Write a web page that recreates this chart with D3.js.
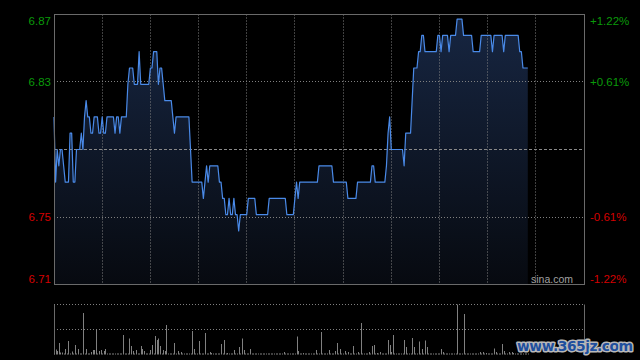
<!DOCTYPE html>
<html><head><meta charset="utf-8">
<script src="https://cdn.jsdelivr.net/npm/d3@7"></script>
<style>html,body{margin:0;padding:0;background:#000;}svg{display:block;}</style>
</head><body>
<svg id="chart" width="640" height="360"></svg>
<script>
// Previous close and axis labels
const prevClose = 6.79;
const pctTicks = [1.22, 0.61, -0.61, -1.22];
const priceLabels = ["6.87", "6.83", "6.75", "6.71"];
const pctLabels = ["+1.22%", "+0.61%", "-0.61%", "-1.22%"];
const sessionMinutes = 330;
const gridMinutes = [30, 60, 90, 120, 150, 180, 210, 240, 270, 300];

// Per-minute last price
const prices = [
6.81,6.77,6.79,6.78,6.79,6.79,6.78,6.77,6.77,6.77,
6.80,6.80,6.77,6.77,6.79,6.79,6.79,6.80,6.79,6.81,
6.82,6.81,6.81,6.80,6.80,6.81,6.81,6.81,6.80,6.80,
6.81,6.80,6.80,6.81,6.81,6.81,6.81,6.81,6.80,6.81,
6.81,6.80,6.81,6.81,6.81,6.81,6.83,6.84,6.84,6.84,
6.83,6.83,6.83,6.85,6.83,6.83,6.83,6.83,6.83,6.83,
6.84,6.84,6.85,6.85,6.85,6.83,6.84,6.84,6.83,6.82,
6.82,6.82,6.82,6.82,6.81,6.80,6.81,6.81,6.81,6.81,
6.81,6.81,6.81,6.81,6.81,6.79,6.77,6.77,6.77,6.77,
6.77,6.77,6.77,6.76,6.77,6.78,6.77,6.78,6.78,6.78,
6.78,6.78,6.78,6.77,6.77,6.76,6.76,6.75,6.75,6.76,
6.75,6.75,6.76,6.75,6.75,6.74,6.75,6.75,6.75,6.75,
6.75,6.76,6.76,6.76,6.76,6.76,6.75,6.75,6.75,6.75,
6.75,6.75,6.75,6.75,6.76,6.76,6.76,6.76,6.76,6.76,
6.76,6.76,6.76,6.76,6.76,6.75,6.75,6.75,6.75,6.75,
6.76,6.77,6.76,6.77,6.77,6.77,6.77,6.77,6.77,6.77,
6.77,6.77,6.77,6.77,6.77,6.78,6.78,6.78,6.78,6.78,
6.78,6.78,6.78,6.78,6.77,6.77,6.77,6.77,6.77,6.77,
6.77,6.77,6.77,6.76,6.76,6.76,6.76,6.76,6.76,6.77,
6.77,6.77,6.77,6.77,6.77,6.77,6.77,6.77,6.78,6.78,
6.77,6.77,6.77,6.77,6.77,6.77,6.77,6.78,6.80,6.81,
6.79,6.79,6.79,6.79,6.79,6.79,6.79,6.79,6.78,6.80,
6.80,6.80,6.80,6.82,6.84,6.84,6.84,6.85,6.85,6.86,
6.86,6.85,6.85,6.85,6.85,6.85,6.85,6.85,6.85,6.86,
6.86,6.85,6.86,6.86,6.86,6.86,6.85,6.86,6.86,6.86,
6.86,6.87,6.87,6.87,6.87,6.86,6.86,6.86,6.86,6.86,
6.86,6.85,6.85,6.85,6.85,6.85,6.86,6.86,6.86,6.86,
6.86,6.86,6.86,6.85,6.86,6.86,6.86,6.86,6.86,6.86,
6.85,6.86,6.86,6.86,6.86,6.86,6.86,6.86,6.86,6.86,
6.85,6.85,6.84,6.84,6.84,6.84
];

// Per-minute volume (thousand shares)
const volumes = [
2,10,7,23,4,4,2,11,2,27,
2,6,2,19,2,11,2,2,83,2,
11,2,2,5,9,9,49,2,7,9,
2,7,11,2,2,2,2,2,2,2,
2,2,2,39,2,2,2,32,17,7,
2,9,2,2,17,11,7,2,2,2,
9,19,2,37,29,32,17,2,9,7,
59,2,2,2,2,23,2,7,2,5,
2,2,2,2,2,2,47,11,2,2,
27,2,2,2,43,2,2,5,3,2,
2,2,2,2,21,2,29,2,3,2,
2,2,9,2,2,15,2,32,9,2,
2,2,11,2,2,2,2,2,2,2,
2,2,2,2,2,2,2,2,2,2,
2,2,2,5,2,2,2,2,2,2,
2,36,7,2,2,3,2,2,2,2,
2,2,2,9,2,2,45,2,2,2,
2,9,2,2,2,7,23,2,11,2,
2,7,2,5,2,2,17,2,2,5,
2,63,2,2,2,2,5,2,17,19,
2,3,2,5,2,2,2,2,29,19,
5,39,2,2,2,2,2,2,29,15,
2,2,2,33,15,2,2,26,2,11,
2,28,15,2,2,2,2,2,2,2,
2,11,5,2,2,2,2,2,2,2,
2,100,2,2,2,81,2,2,2,2,
2,2,2,2,2,5,2,5,2,3,
2,2,2,2,12,5,2,2,2,21,
7,2,2,5,2,5,3,2,2,2,
2,2,2,2,2,2
];

const svg = d3.select("#chart");
const L = 54, R = 584, T = 14.5, B = 284.5;
const VT = 304.5, VB = 354.5;
const green = "#0a9a0a", red = "#d40000";
const gridColor = "#808080", borderColor = "#6a6a6a";

const x = d3.scaleLinear().domain([0, sessionMinutes]).range([L, R]);
const y = d3.scaleLinear()
  .domain([prevClose * (1 - pctTicks[0] / 100), prevClose * (1 + pctTicks[0] / 100)])
  .range([B, T]);
const yv = d3.scaleLinear().domain([0, d3.max(volumes)]).range([VB, VT]);
const crisp = v => Math.round(v - 0.5) + 0.5;

svg.append("rect").attr("width", 640).attr("height", 360).attr("fill", "#000");

// gradient
const defs = svg.append("defs");
const grad = defs.append("linearGradient").attr("id", "fillGrad")
  .attr("x1", 0).attr("y1", 0).attr("x2", 0).attr("y2", 1)
  .attr("gradientUnits", "userSpaceOnUse")
  .attr("x1", 0).attr("y1", T).attr("x2", 0).attr("y2", B);
grad.append("stop").attr("offset", "0%").attr("stop-color", "#172642");
grad.append("stop").attr("offset", "100%").attr("stop-color", "#070a10");

const data = prices.map((p, i) => ({ m: i, p }));

// area
svg.append("path").datum(data)
  .attr("fill", "url(#fillGrad)")
  .attr("d", d3.area().x(d => x(d.m)).y0(B).y1(d => y(d.p)));

// vertical grid
svg.append("g").selectAll("line").data(gridMinutes).join("line")
  .attr("x1", d => crisp(x(d))).attr("x2", d => crisp(x(d)))
  .attr("y1", T).attr("y2", B)
  .attr("stroke", gridColor).attr("stroke-dasharray", "1,2");

// horizontal grid (+-0.61%)
const midPcts = pctTicks.slice(1, 3);
svg.append("g").selectAll("line").data(midPcts).join("line")
  .attr("x1", L).attr("x2", R)
  .attr("y1", d => crisp(y(prevClose * (1 + d / 100))))
  .attr("y2", d => crisp(y(prevClose * (1 + d / 100))))
  .attr("stroke", gridColor).attr("stroke-dasharray", "1,2");

// prev close dashed
svg.append("line")
  .attr("x1", L).attr("x2", R)
  .attr("y1", crisp(y(prevClose))).attr("y2", crisp(y(prevClose)))
  .attr("stroke", "#8a8a8a").attr("stroke-dasharray", "3,2");

// price line
svg.append("path").datum(data)
  .attr("fill", "none").attr("stroke", "#4a8ae8").attr("stroke-width", 1.2)
  .attr("stroke-linejoin", "round")
  .attr("d", d3.line().x(d => x(d.m)).y(d => y(d.p)));

// border of price chart
svg.append("rect").attr("x", crisp(L)).attr("y", crisp(T))
  .attr("width", Math.round(R - L)).attr("height", Math.round(B - T))
  .attr("fill", "none").attr("stroke", borderColor);

// left labels
const labelY = [T + 10, y(prevClose * (1 + pctTicks[1] / 100)) + 4, y(prevClose * (1 + pctTicks[2] / 100)) + 4, B - 2];
svg.append("g").selectAll("text").data(priceLabels).join("text")
  .attr("x", 51).attr("y", (d, i) => labelY[i])
  .attr("text-anchor", "end")
  .attr("font-family", "Liberation Sans, Arial, sans-serif").attr("font-size", 11.5)
  .attr("fill", (d, i) => pctTicks[i] > 0 ? green : red)
  .text(d => d);
svg.append("g").selectAll("text").data(pctLabels).join("text")
  .attr("x", 590).attr("y", (d, i) => labelY[i])
  .attr("text-anchor", "start")
  .attr("font-family", "Liberation Sans, Arial, sans-serif").attr("font-size", 11.5)
  .attr("fill", (d, i) => pctTicks[i] > 0 ? green : red)
  .text(d => d);

svg.append("text").attr("x", 573).attr("y", 283).attr("text-anchor", "end")
  .attr("font-family", "Liberation Sans, Arial, sans-serif").attr("font-size", 10.5)
  .attr("fill", "#a0a0a0").text("sina.com");

// volume panel
svg.append("g").selectAll("line").data([VT, (VT + VB) / 2]).join("line")
  .attr("x1", L).attr("x2", R)
  .attr("y1", d => crisp(d)).attr("y2", d => crisp(d))
  .attr("stroke", gridColor).attr("stroke-dasharray", "1,2");
svg.append("g").selectAll("line").data([L, R]).join("line")
  .attr("x1", d => crisp(d)).attr("x2", d => crisp(d))
  .attr("y1", VT).attr("y2", VB)
  .attr("stroke", borderColor);
svg.append("g").selectAll("rect").data(volumes).join("rect")
  .attr("x", (d, i) => Math.round(x(i)))
  .attr("width", 1)
  .attr("y", d => yv(d))
  .attr("height", d => VB - yv(d))
  .attr("fill", "#808080");

// watermark
svg.append("text").attr("x", 517).attr("y", 351)
  .attr("font-family", "DejaVu Sans, sans-serif").attr("font-weight", "bold")
  .attr("font-size", 14).attr("textLength", 116)
  .attr("fill", "#1f4f9e").attr("stroke", "#b8b8b8").attr("stroke-width", 3)
  .attr("paint-order", "stroke").attr("stroke-linejoin", "round")
  .text("www.365jz.com");
</script>
</body></html>
